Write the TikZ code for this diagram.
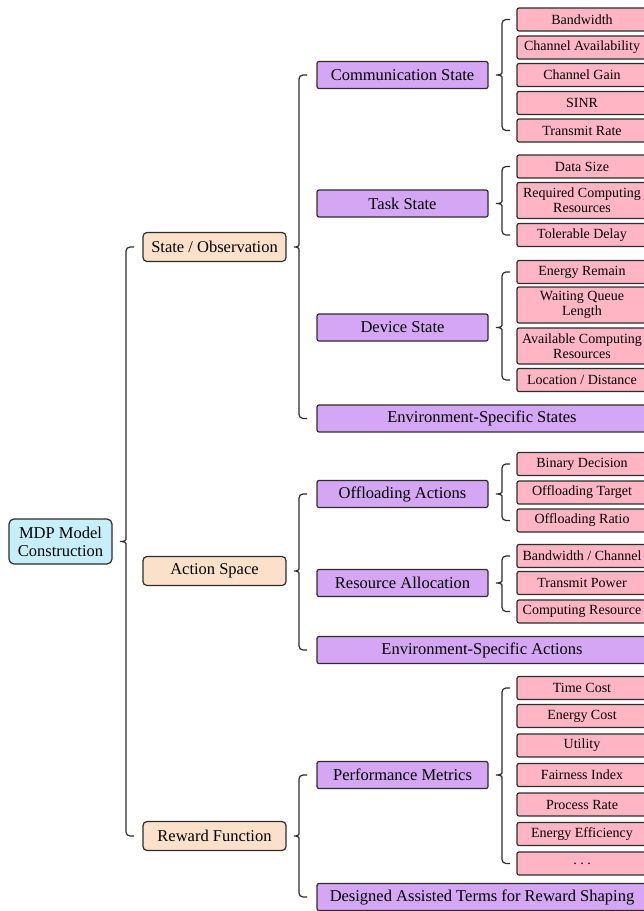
\documentclass[tikz,border=0pt]{standalone}
\usepackage{fontspec}
\setmainfont{Liberation Serif}
\usetikzlibrary{calc}

\definecolor{rootfill}{RGB}{199,239,251}
\definecolor{lvlone}{RGB}{251,225,201}
\definecolor{lvltwo}{RGB}{212,166,244}
\definecolor{leaf}{RGB}{255,181,196}
\definecolor{edgecol}{RGB}{45,45,45}

\tikzset{
  box/.style={draw=edgecol, line width=1.2pt, inner sep=0pt, align=center, text=black},
  rootbox/.style={box, fill=rootfill, rounded corners=5pt, minimum width=103, minimum height=45,
    font=\fontsize{16.5}{18}\selectfont},
  catbox/.style={box, fill=lvlone, rounded corners=4pt, minimum width=143, minimum height=29,
    font=\fontsize{16.5}{18}\selectfont},
  groupbox/.style={box, fill=lvltwo, rounded corners=2pt, minimum width=171, minimum height=27,
    font=\fontsize{16.5}{18}\selectfont},
  widebox/.style={groupbox, minimum width=330},
  leafbox/.style={box, fill=leaf, rounded corners=2pt, minimum width=130, minimum height=23,
    font=\fontsize{14}{15}\selectfont},
  tallleaf/.style={leafbox, minimum height=36},
  bracepath/.style={draw=edgecol, line width=1.2pt, rounded corners=4pt},
}

% curly bracket from a parent node to the first and last child of its group
\newcommand\groupbrace[4]{%
  \coordinate (bL) at (#4,0);
  \coordinate (bT) at (#2.west -| bL);
  \coordinate (bB) at (#3.west -| bL);
  \coordinate (bM) at (#1.east -| bL);
  \coordinate (bP) at ([xshift=5pt]#1.east);
  \draw[bracepath] ([xshift=8pt]bT) -- (bT) -- ([yshift=6pt]bM)
    .. controls ([yshift=1pt]bM) and ([xshift=-2pt]bM) .. (bP)
    .. controls ([xshift=-2pt]bM) and ([yshift=-1pt]bM) .. ([yshift=-6pt]bM)
    -- (bB) -- ([xshift=8pt]bB);
}

\begin{document}
\begin{tikzpicture}[x=1pt, y=-1pt]
\useasboundingbox (0,0) rectangle (644,911);

% root
\node[rootbox] (root) at (60.5,541.5) {MDP Model\\Construction};

% first level
\node[catbox] (so) at (214.5,247) {State / Observation};
\node[catbox] (as) at (214.5,571) {Action Space};
\node[catbox] (rf) at (214.5,836) {Reward Function};

% second level
\node[groupbox] (cs) at (402.5,75) {Communication State};
\node[groupbox] (ts) at (402.5,203.5) {Task State};
\node[groupbox] (ds) at (402.5,327.5) {Device State};
\node[widebox]  (ess) at (482,418.5) {Environment-Specific States};
\node[groupbox] (oa) at (402.5,494) {Offloading Actions};
\node[groupbox] (ra) at (402.5,583) {Resource Allocation};
\node[widebox]  (esa) at (482,650) {Environment-Specific Actions};
\node[groupbox] (pm) at (402.5,775) {Performance Metrics};
\node[widebox]  (dat) at (482,897) {Designed Assisted Terms for Reward Shaping};

% leaves: communication state
\node[leafbox] (bw) at (582,19.5) {Bandwidth};
\node[leafbox] (ca) at (582,47.5) {Channel Availability};
\node[leafbox] (cg) at (582,75) {Channel Gain};
\node[leafbox] (sinr) at (582,103) {SINR};
\node[leafbox] (tr) at (582,130.5) {Transmit Rate};
% leaves: task state
\node[leafbox] (dsz) at (582,166.5) {Data Size};
\node[tallleaf] (rcr) at (582,200.5) {Required Computing\\Resources};
\node[leafbox] (td) at (582,235) {Tolerable Delay};
% leaves: device state
\node[leafbox] (er) at (582,272) {Energy Remain};
\node[tallleaf] (wql) at (582,305) {Waiting Queue\\Length};
\node[tallleaf] (acr) at (582,346) {Available Computing\\Resources};
\node[leafbox] (ld) at (582,380) {Location / Distance};
% leaves: offloading actions
\node[leafbox] (bd) at (582,464) {Binary Decision};
\node[leafbox] (ot) at (582,492.5) {Offloading Target};
\node[leafbox] (ofr) at (582,520.5) {Offloading Ratio};
% leaves: resource allocation
\node[leafbox] (bc) at (582,556) {Bandwidth / Channel};
\node[leafbox] (tp) at (582,583) {Transmit Power};
\node[leafbox] (cr) at (582,611.5) {Computing Resource};
% leaves: performance metrics
\node[leafbox] (tc) at (582,688) {Time Cost};
\node[leafbox] (ec) at (582,716) {Energy Cost};
\node[leafbox] (ut) at (582,745.5) {Utility};
\node[leafbox] (fi) at (582,775) {Fairness Index};
\node[leafbox] (pr) at (582,804.5) {Process Rate};
\node[leafbox] (ee) at (582,834) {Energy Efficiency};
\node[leafbox] (more) at (582,863.5) {.\hspace{3.5pt}.\hspace{3.5pt}.};

% brackets
\groupbrace{root}{so}{rf}{126}
\groupbrace{so}{cs}{ess}{299}
\groupbrace{as}{oa}{esa}{299}
\groupbrace{rf}{pm}{dat}{299}
\groupbrace{cs}{bw}{tr}{502}
\groupbrace{ts}{dsz}{td}{502}
\groupbrace{ds}{er}{ld}{502}
\groupbrace{oa}{bd}{ofr}{502}
\groupbrace{ra}{bc}{cr}{502}
\groupbrace{pm}{tc}{more}{502}
\end{tikzpicture}
\end{document}
